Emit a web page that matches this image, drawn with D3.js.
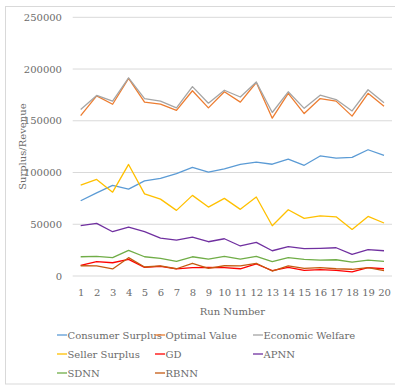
<!DOCTYPE html>
<html>
<head>
<meta charset="utf-8">
<script src="https://cdn.jsdelivr.net/npm/d3@7"></script>
<style>
  html, body { margin: 0; padding: 0; background: #fff; }
  svg { display: block; }
</style>
</head>
<body>
<svg id="chart" width="395" height="385"></svg>
<script>
// Run numbers along the x axis
const runs = d3.range(1, 21);

// Series values (one per run)
const consumerSurplus = [72700, 80400, 87500, 84000, 92000, 94300, 99000, 105000, 100400, 103600,
                         107800, 110000, 108000, 113000, 107000, 116000, 114000, 114600, 122000, 116500];
const optimalValue    = [155000, 174000, 166000, 191000, 168000, 166000, 160000, 179000, 162500, 178000,
                         168000, 187000, 152500, 176500, 157000, 171500, 169000, 154500, 176500, 164000];
const economicWelfare = [161000, 174500, 169000, 191500, 171500, 169000, 162500, 183000, 167000, 179500,
                         173000, 187500, 158000, 178000, 162000, 174700, 170500, 159500, 180000, 167500];
const sellerSurplus   = [87800, 93300, 81000, 107800, 79400, 74300, 63400, 77900, 66600, 75000,
                         64400, 76300, 48600, 64000, 55700, 58200, 57200, 45000, 57600, 51200];
const gd              = [10300, 13800, 12800, 16100, 8400, 9400, 6800, 8000, 8400, 8000,
                         7000, 11600, 5100, 8400, 5500, 6100, 5500, 3900, 8000, 7000];
const apnn            = [48600, 50900, 42800, 47300, 42800, 36700, 34700, 37600, 33100, 36000,
                         29000, 32500, 24400, 28300, 26400, 26700, 27300, 20900, 25400, 24400];
const sdnn            = [18600, 19000, 17700, 24800, 18600, 17000, 14200, 18600, 16400, 19000,
                         16400, 19000, 13800, 17700, 16100, 15400, 15700, 13500, 15400, 14200];
const rbnn            = [9900, 9700, 6800, 17700, 8700, 9700, 7000, 12300, 7400, 9900,
                         9700, 12300, 4800, 9700, 7400, 8000, 7000, 6500, 8000, 5100];

// Y axis ticks
const yTicks = [0, 50000, 100000, 150000, 200000, 250000];

const seriesNames  = ["Consumer Surplus", "Optimal Value", "Economic Welfare", "Seller Surplus",
                      "GD", "APNN", "SDNN", "RBNN"];
const seriesValues = [consumerSurplus, optimalValue, economicWelfare, sellerSurplus,
                      gd, apnn, sdnn, rbnn];
const seriesColors = ["#5B9BD5", "#ED7D31", "#A5A5A5", "#FFC000",
                      "#FF0000", "#7030A0", "#70AD47", "#C55A11"];

const FONT = "'DejaVu Serif', serif";
const TEXT_COLOR = "#6b6b6b";
const FONT_SIZE = 10;

const svg = d3.select("#chart");

// Outer frame
svg.append("rect")
  .attr("x", 5.5).attr("y", 6.5)
  .attr("width", 390).attr("height", 377.5)
  .attr("fill", "none").attr("stroke", "#d9d9d9").attr("stroke-width", 1);

const plot = { left: 72.7, right: 392, top: 17.3, bottom: 276 };

const x = d3.scalePoint().domain(runs).range([plot.left, plot.right]).padding(0.5);
const y = d3.scaleLinear().domain([0, 250000]).range([plot.bottom, plot.top]);

function styleText(sel) {
  sel.style("font-family", FONT).style("font-size", FONT_SIZE + "px").style("fill", TEXT_COLOR);
}

// Horizontal gridlines
svg.append("g").selectAll("line")
  .data(yTicks).join("line")
  .attr("x1", plot.left).attr("x2", plot.right)
  .attr("y1", d => y(d)).attr("y2", d => y(d))
  .attr("stroke", "#d9d9d9").attr("stroke-width", 1);

// Y axis (labels only)
const yAxis = d3.axisLeft(y).tickValues(yTicks).tickSize(0).tickPadding(0).tickFormat(d3.format("d"));
const gy = svg.append("g").attr("transform", `translate(${62},0)`).call(yAxis);
gy.select(".domain").remove();
gy.selectAll("text").call(styleText);

// X axis (labels only)
const xAxis = d3.axisBottom(x).tickSize(0).tickPadding(0);
const gx = svg.append("g").attr("transform", `translate(0,${289})`).call(xAxis);
gx.select(".domain").remove();
gx.selectAll("text").call(styleText);

// Axis titles
svg.append("text")
  .attr("x", (plot.left + plot.right) / 2).attr("y", 314.5)
  .attr("text-anchor", "middle")
  .text("Run Number").call(styleText);
svg.append("text")
  .attr("transform", `translate(26,${(plot.top + plot.bottom) / 2}) rotate(-90)`)
  .attr("text-anchor", "middle")
  .text("Surplus/Revenue").call(styleText);

// Series lines
const line = d3.line().x((d, i) => x(runs[i])).y(d => y(d));
svg.append("g").selectAll("path")
  .data(seriesValues).join("path")
  .attr("d", d => line(d))
  .attr("fill", "none")
  .attr("stroke", (d, i) => seriesColors[i])
  .attr("stroke-width", 1.3)
  .attr("stroke-linejoin", "round");

// Legend: three columns
const colX = [57, 155, 253];
const rowY = [335, 354, 373];
const legend = svg.append("g").selectAll("g")
  .data(seriesNames).join("g")
  .attr("transform", (d, i) => `translate(${colX[i % 3]},${rowY[Math.floor(i / 3)]})`);
legend.append("line")
  .attr("x1", 0).attr("x2", 10).attr("y1", 0).attr("y2", 0)
  .attr("stroke", (d, i) => seriesColors[i]).attr("stroke-width", 1.3);
legend.append("text")
  .attr("x", 10.5).attr("y", 0).attr("dy", "0.35em")
  .text(d => d).call(styleText);
</script>
</body>
</html>
